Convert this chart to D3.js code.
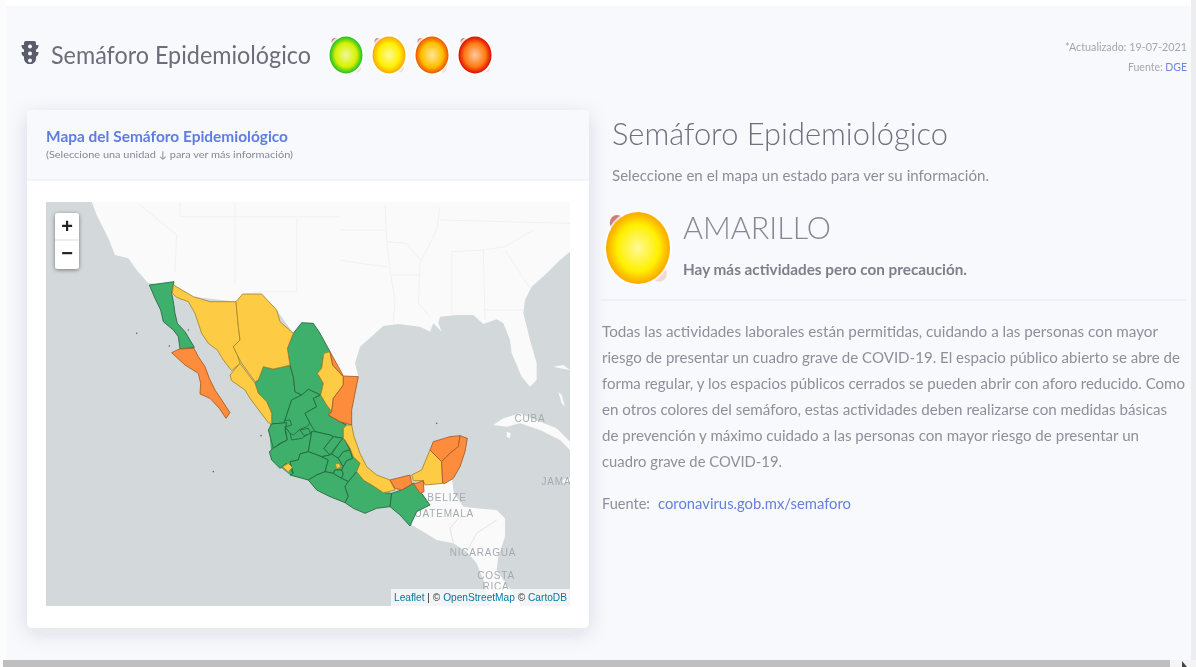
<!DOCTYPE html>
<html lang="es">
<head>
<meta charset="utf-8">
<title>Semáforo Epidemiológico</title>
<script src="https://cdn.jsdelivr.net/npm/d3@7"></script>
<style>
  html, body { margin: 0; padding: 0; background: #f8f9fc; overflow: hidden; }
  svg { display: block; filter: blur(0.5px); font-family: Lato, "Noto Sans", sans-serif; }
</style>
</head>
<body>
<div id="chart"></div>
<script>
// Map outlines, in a grid of 1050 x 810 units over the map's middle part
const tierra = [[-115,-300],[-115,-205],[-100,-165],[-65,-95],[-45,-45],[-5,-35],[20,0],[55,40],[130,45],[190,80],[320,95],[340,75],[395,75],[440,120],[490,190],[515,160],[550,160],[600,245],[640,320],[685,320],[675,280],[690,230],[730,195],[760,168],[805,162],[870,170],[900,185],[910,160],[935,185],[925,160],[930,140],[980,135],[1030,135],[1060,162],[1100,148],[1120,160],[1140,210],[1145,250],[1175,320],[1200,350],[1220,330],[1220,280],[1200,210],[1180,130],[1185,90],[1205,50],[1255,5],[1290,-30],[1320,-55],[1340,-60],[1340,-300]];
const centroamerica = [[880,640],[965,622],[972,670],[1000,710],[1040,715],[1100,720],[1125,745],[1125,800],[1105,860],[1100,900],[1135,950],[1170,1000],[1170,1020],[1085,1020],[1080,1000],[1060,930],[1040,880],[1010,845],[970,820],[920,810],[880,785],[845,765],[845,700]];
const cuba = [[1090,465],[1120,445],[1170,430],[1230,455],[1280,475],[1325,520],[1340,560],[1290,510],[1230,480],[1170,460],[1130,470]];
const islas = [[[1285,365],[1295,375],[1305,410],[1295,400]],[[1130,485],[1142,490],[1140,505],[1130,500]],[[1270,290],[1300,285],[1320,300],[1290,295]],[[1290,630],[1320,625],[1335,635],[1300,640]]];
const islotes = [[20,190],[118,228],[920,460],[393,497],[250,605],[175,180]];
const lineasEEUU = [
  [[30,-195],[140,-105],[135,5]],[[150,-205],[150,-160]],[[150,-160],[630,-160]],[[315,-205],[315,45]],
  [[370,65],[500,65],[500,-155]],[[765,-195],[770,-90],[780,0],[795,90],[790,160]],[[630,-30],[690,-20],[770,-10]],
  [[770,-85],[830,-80],[870,-30]],[[930,-190],[920,-120],[870,-20],[865,100],[900,140]],[[780,15],[875,15]],
  [[965,-55],[965,130]],[[1060,-60],[1065,150]],[[1060,120],[1180,120]],[[1125,-60],[1200,55]],[[930,-150],[1320,-140]],
  [[630,-120],[700,-120],[770,-120]],[[965,-55],[1060,-60],[1125,-70],[1210,-120]]
];
const lineasCA = [[970,820],[960,775],[985,745]],
      lineasCA2 = [[1010,845],[1040,790],[1100,750]];

// green filler under the small central states
const centroRelleno = [[425,430],[475,400],[495,365],[572,375],[605,425],[650,465],[640,505],[690,580],[680,610],[655,640],[535,630],[480,615],[425,570],[418,480]];

const estadosVerde = [
  ["Baja California",[[58,45],[132,35],[125,70],[130,95],[135,130],[142,160],[165,185],[193,232],[150,237],[145,200],[130,180],[100,155],[92,120],[75,85]]],
  ["Durango",[[400,290],[430,297],[462,290],[480,285],[490,320],[495,365],[515,375],[485,390],[475,420],[465,450],[470,458],[425,462],[425,430],[410,395],[385,370],[375,340],[385,330]]],
  ["Coahuila",[[490,190],[515,158],[550,160],[570,190],[600,245],[580,260],[575,295],[562,310],[580,340],[572,375],[535,358],[515,375],[495,365],[490,320],[480,285],[472,235]]],
  ["Zacatecas",[[515,375],[535,358],[572,375],[550,385],[560,410],[525,430],[540,460],[530,470],[510,478],[490,495],[480,490],[465,470],[465,450],[475,420],[485,390]]],
  ["San Luis Potosí",[[572,375],[590,405],[605,425],[595,435],[630,455],[650,465],[640,475],[640,505],[610,500],[600,495],[555,485],[540,460],[525,430],[560,410],[550,385]]],
  ["Enclave",[[462,452],[480,450],[485,465],[470,470]]],
  ["Nayarit",[[425,462],[470,458],[465,480],[472,510],[450,520],[430,535],[415,480]]],
  ["Jalisco",[[430,535],[450,522],[472,510],[465,470],[480,490],[485,510],[515,505],[545,485],[535,545],[510,552],[505,570],[480,575],[490,610],[470,580],[450,595],[425,570],[418,545]]],
  ["Aguascalientes",[[510,480],[535,475],[542,490],[522,497]]],
  ["Guanajuato",[[545,485],[555,485],[600,495],[610,500],[582,535],[600,555],[575,560],[535,545]]],
  ["Querétaro",[[610,500],[640,505],[630,515],[600,555],[582,535]]],
  ["Hidalgo",[[640,505],[645,510],[660,540],[640,545],[625,565],[605,552],[630,515]]],
  ["Michoacán",[[510,552],[535,545],[575,560],[595,570],[585,605],[560,615],[535,630],[480,615],[490,610],[480,575],[505,570]]],
  ["México",[[600,555],[605,552],[625,565],[640,590],[635,600],[615,600],[610,610],[585,605],[595,570],[575,560]]],
  ["Morelos",[[615,600],[635,600],[640,612],[635,625],[625,620],[610,610]]],
  ["Tlaxcala",[[640,545],[660,540],[668,565],[650,572],[640,590],[625,565]]],
  ["Puebla",[[645,510],[660,535],[670,560],[690,580],[680,605],[655,635],[635,625],[640,612],[635,600],[640,590],[650,572],[668,565],[660,540]]],
  ["Guerrero",[[535,630],[560,615],[585,605],[610,610],[625,620],[635,625],[655,635],[645,650],[655,680],[645,698],[600,680],[560,660]]],
  ["Oaxaca",[[655,635],[680,605],[700,630],[730,648],[760,668],[785,670],[780,710],[740,715],[705,730],[670,715],[645,698],[655,680],[645,650]]],
  ["Chiapas",[[785,670],[815,660],[850,640],[875,670],[900,705],[860,725],[840,768],[810,735],[780,710]]]
];
const estadosAmarillo = [
  ["Sonora",[[130,45],[190,80],[240,95],[318,95],[325,170],[330,210],[310,230],[322,255],[330,280],[305,302],[280,270],[262,240],[235,220],[215,190],[195,130],[175,95],[140,82],[127,70]]],
  ["Chihuahua",[[318,95],[338,72],[395,72],[440,120],[450,155],[490,190],[472,235],[480,285],[462,290],[430,297],[400,290],[385,330],[375,335],[335,280],[322,255],[310,230],[330,210],[325,170]]],
  ["Sinaloa",[[330,280],[375,340],[385,370],[410,395],[425,430],[425,462],[415,458],[390,425],[360,385],[345,360],[305,332],[300,315]]],
  ["Nuevo León",[[582,250],[600,245],[608,285],[640,320],[640,345],[610,385],[605,425],[590,405],[572,375],[580,340],[562,310],[575,295],[580,260]]],
  ["Veracruz",[[650,465],[665,465],[672,500],[690,550],[710,590],[740,615],[780,630],[795,660],[775,665],[760,668],[730,648],[700,630],[680,605],[690,580],[670,560],[660,535],[645,510],[640,505],[640,475]]],
  ["Campeche",[[845,615],[875,600],[900,540],[935,575],[938,640],[885,645],[880,632],[850,632]]],
  ["Colima",[[458,590],[475,580],[487,592],[475,607]]],
  ["Ciudad de México",[[616,582],[628,580],[632,592],[620,596]]]
];
const estadosNaranja = [
  ["Baja California Sur",[[125,248],[148,237],[192,235],[205,260],[225,290],[238,325],[255,360],[272,385],[300,428],[288,445],[268,415],[240,385],[210,372],[212,340],[205,310],[165,285]]],
  ["Tamaulipas",[[600,245],[625,290],[640,318],[685,320],[675,370],[665,420],[665,465],[630,455],[595,435],[605,425],[610,385],[640,345],[640,320],[608,285]]],
  ["Tabasco",[[780,630],[840,615],[845,640],[858,640],[880,632],[882,665],[870,670],[850,640],[815,660],[795,655]]],
  ["Yucatán",[[900,540],[910,515],[960,500],[990,497],[985,530],[960,550],[935,575]]],
  ["Quintana Roo",[[990,497],[1012,505],[1005,545],[990,590],[970,625],[945,640],[938,640],[935,575],[960,550],[985,530]]]
];

const niveles = ["verde", "amarillo", "naranja"];
const coloresNivel = ["#3fb06c", "#fecc44", "#fd8c3c"];
const paises = ["CUBA", "BELIZE", "GUATEMALA", "JAMAICA", "NICARAGUA", "COSTA", "RICA"];

const luces = ["verde", "amarillo", "naranja", "rojo"];
const lucesCentro = ["#d8f000", "#fff000", "#ffc000", "#ff7a10"];
const lucesBorde = ["#30c820", "#fbb000", "#f06000", "#e01808"];

const parrafo = [
  "Todas las actividades laborales están permitidas, cuidando a las personas con mayor",
  "riesgo de presentar un cuadro grave de COVID-19. El espacio público abierto se abre de",
  "forma regular, y los espacios públicos cerrados se pueden abrir con aforo reducido. Como",
  "en otros colores del semáforo, estas actividades deben realizarse con medidas básicas",
  "de prevención y máximo cuidado a las personas con mayor riesgo de presentar un",
  "cuadro grave de COVID-19."
];
const anchoParrafo = [556, 578, 583, 565, 537, 180];

const width = 1196, height = 667;
const svg = d3.select("#chart").append("svg").attr("width", width).attr("height", height);
const defs = svg.append("defs");

defs.append("filter").attr("id", "sombra").attr("x", "-10%").attr("y", "-10%").attr("width", "120%").attr("height", "125%")
  .append("feDropShadow").attr("dx", 0).attr("dy", 5).attr("stdDeviation", 10).attr("flood-color", "#3a3b45").attr("flood-opacity", 0.13);
defs.append("filter").attr("id", "sombraBoton").attr("x", "-30%").attr("y", "-30%").attr("width", "160%").attr("height", "160%")
  .append("feDropShadow").attr("dx", 0).attr("dy", 1).attr("stdDeviation", 2).attr("flood-color", "#000").attr("flood-opacity", 0.45);
defs.append("clipPath").attr("id", "recorteMapa").append("rect").attr("x", 46).attr("y", 202).attr("width", 524).attr("height", 404);

function gradiente(id, centro, borde) {
  const g = defs.append("radialGradient").attr("id", id).attr("cx", "50%").attr("cy", "50%").attr("r", "50%");
  g.append("stop").attr("offset", "0%").attr("stop-color", d3.interpolateRgb(centro, "#fff")(0.6));
  g.append("stop").attr("offset", "65%").attr("stop-color", centro);
  g.append("stop").attr("offset", "95%").attr("stop-color", borde);
  g.append("stop").attr("offset", "100%").attr("stop-color", borde);
}
luces.forEach((d, i) => gradiente("luz-" + d, lucesCentro[i], lucesBorde[i]));

// page frame
svg.append("rect").attr("width", width).attr("height", height).attr("fill", "#f8f9fc");
svg.append("rect").attr("width", width).attr("height", 6).attr("fill", "#fff");
svg.append("rect").attr("width", 6).attr("height", height).attr("fill", "#fcfcfd");
svg.append("rect").attr("x", 1191).attr("width", 5).attr("height", height).attr("fill", "#ededf0");
svg.append("rect").attr("x", 3).attr("y", 660).attr("width", 1167).attr("height", 7).attr("fill", "#bfbfbf");
svg.append("rect").attr("x", 1170).attr("y", 660).attr("width", 26).attr("height", 7).attr("fill", "#f4f4f4");
svg.append("path").attr("d", "M1182 661l5 6h-5z").attr("fill", "#444");

// header
svg.append("path")
  .attr("d", "M26 41h8a2 2 0 0 1 2 2v2h2.500c0 2.500-1 4-2.500 4.500v2.500h2.500c0 2.500-1 4-2.500 4.500v2c0 3-2.500 5-4 5.500h-4c-1.500-.5-4-2.500-4-5.500v-2c-1.500-.5-2.500-2-2.500-4.500h2.500v-2.500c-1.500-.5-2.500-2-2.500-4.500h2.500v-2a2 2 0 0 1 2-2z")
  .attr("fill", "#5a5c69");
svg.append("g").selectAll("circle").data([46.500, 53.500, 60.500]).join("circle")
  .attr("cx", 30).attr("cy", d => d).attr("r", 2).attr("fill", "#f8f9fc");

svg.append("text").attr("x", 51).attr("y", 64).attr("font-size", 25).attr("fill", "#6b6d7a")
  .attr("textLength", 260).attr("lengthAdjust", "spacingAndGlyphs").text("Semáforo Epidemiológico");

const xLuz = d3.scalePoint().domain(luces).range([346, 475]);
function luz(g, nombre, cx, cy, rx, ry) {
  g.append("ellipse").attr("cx", cx + rx * 0.66).attr("cy", cy + ry * 0.7).attr("rx", rx * 0.24).attr("ry", ry * 0.24).attr("fill", "#e8b0a8").attr("opacity", 0.45);
  g.append("ellipse").attr("cx", cx - rx * 0.66).attr("cy", cy - ry * 0.7).attr("rx", rx * 0.22).attr("ry", ry * 0.22).attr("fill", "#c0473c").attr("opacity", 0.7);
  g.append("ellipse").attr("cx", cx).attr("cy", cy).attr("rx", rx + 2).attr("ry", ry + 2).attr("fill", "#fff").attr("opacity", 0.75);
  g.append("ellipse").attr("cx", cx).attr("cy", cy).attr("rx", rx).attr("ry", ry).attr("fill", "url(#luz-" + nombre + ")");
}
const gLuces = svg.append("g");
luces.forEach(d => luz(gLuces, d, xLuz(d), 55, 16.500, 18.500));

svg.append("text").attr("x", 1187).attr("y", 51).attr("text-anchor", "end").attr("font-size", 10.500).attr("fill", "#a3a5b0")
  .attr("textLength", 122).attr("lengthAdjust", "spacingAndGlyphs").text("*Actualizado: 19-07-2021");
const fuente = svg.append("text").attr("x", 1187).attr("y", 71).attr("text-anchor", "end").attr("font-size", 10.500).attr("fill", "#a3a5b0");
fuente.append("tspan").text("Fuente: ");
fuente.append("tspan").attr("fill", "#6f86d8").text("DGE");

// card
svg.append("rect").attr("x", 27).attr("y", 110).attr("width", 562).attr("height", 518).attr("rx", 5).attr("fill", "#fff").attr("filter", "url(#sombra)");
svg.append("path").attr("d", "M27 180v-65a5 5 0 0 1 5-5h552a5 5 0 0 1 5 5v65z").attr("fill", "#f8f9fc");
svg.append("line").attr("x1", 27).attr("x2", 589).attr("y1", 180).attr("y2", 180).attr("stroke", "#e9ebf3");
svg.append("text").attr("x", 46).attr("y", 142).attr("font-size", 14.500).attr("font-weight", 700).attr("fill", "#5f7de0")
  .attr("textLength", 242).attr("lengthAdjust", "spacingAndGlyphs").text("Mapa del Semáforo Epidemiológico");
svg.append("text").attr("x", 46).attr("y", 158).attr("font-size", 9.500).attr("fill", "#858796")
  .attr("textLength", 247).attr("lengthAdjust", "spacingAndGlyphs").text("(Seleccione una unidad ↓ para ver más información)");

// map
const xMapa = d3.scaleLinear().domain([0, 1050]).range([130, 480]);
const yMapa = d3.scaleLinear().domain([0, 810]).range([270, 540]);
const linea = d3.line().x(d => xMapa(d[0])).y(d => yMapa(d[1]));
const color = d3.scaleOrdinal().domain(niveles).range(coloresNivel);

const mapa = svg.append("g").attr("clip-path", "url(#recorteMapa)");
mapa.append("rect").attr("x", 46).attr("y", 202).attr("width", 524).attr("height", 404).attr("fill", "#d3d8da");
mapa.append("g").attr("fill", "#fafafa").selectAll("path")
  .data([tierra, centroamerica, cuba, ...islas]).join("path").attr("d", d => linea(d) + "Z");
mapa.append("g").attr("fill", "none").attr("stroke", "#f1f1f1").attr("stroke-width", 1).selectAll("path")
  .data(lineasEEUU).join("path").attr("d", linea);
mapa.append("g").attr("fill", "none").attr("stroke", "#efdfe0").attr("stroke-width", 1).selectAll("path")
  .data([lineasCA, lineasCA2]).join("path").attr("d", linea);
mapa.append("g").attr("fill", "#5f6a70").selectAll("circle")
  .data(islotes).join("circle").attr("cx", d => xMapa(d[0])).attr("cy", d => yMapa(d[1])).attr("r", 0.8);

const xPais = d3.scaleOrdinal().domain(paises).range([530, 447, 440, 566, 483, 496, 496]);
const yPais = d3.scaleOrdinal().domain(paises).range([422, 501, 517, 485, 556, 579, 590]);
mapa.append("g").attr("font-family", "'Liberation Sans', Arial, sans-serif").attr("font-size", 10).attr("letter-spacing", 0.8)
  .attr("fill", "#a4abb0").attr("text-anchor", "middle")
  .selectAll("text").data(paises).join("text")
  .attr("x", d => xPais(d)).attr("y", d => yPais(d)).text(d => d);

mapa.append("path").attr("d", linea(centroRelleno) + "Z").attr("fill", coloresNivel[0]);

const capas = [["verde", estadosVerde], ["amarillo", estadosAmarillo], ["naranja", estadosNaranja]];
capas.forEach(([nivel, estados]) => {
  mapa.append("g").attr("class", nivel).selectAll("path").data(estados).join("path")
    .attr("d", d => linea(d[1]) + "Z")
    .attr("fill", color(nivel))
    .attr("stroke", d3.color(color(nivel)).darker(nivel === "verde" ? 1.5 : 1.2))
    .attr("stroke-opacity", 0.85)
    .attr("stroke-width", 1)
    .attr("stroke-linejoin", "round");
});

// leaflet controls
const zoomCtl = svg.append("g");
zoomCtl.append("rect").attr("x", 55).attr("y", 213).attr("width", 24).attr("height", 56).attr("rx", 3).attr("fill", "#fff").attr("filter", "url(#sombraBoton)");
zoomCtl.append("line").attr("x1", 55).attr("x2", 79).attr("y1", 240).attr("y2", 240).attr("stroke", "#dddddd");
zoomCtl.append("text").attr("x", 67).attr("y", 233).attr("text-anchor", "middle").attr("font-size", 20).attr("font-weight", 700).attr("font-family", "'Liberation Sans', sans-serif").attr("fill", "#222").text("+");
zoomCtl.append("text").attr("x", 67).attr("y", 260).attr("text-anchor", "middle").attr("font-size", 20).attr("font-weight", 700).attr("font-family", "'Liberation Sans', sans-serif").attr("fill", "#222").text("−");

svg.append("rect").attr("x", 391).attr("y", 589).attr("width", 179).attr("height", 17).attr("fill", "#fff").attr("opacity", 0.72);
const atrib = svg.append("text").attr("x", 394).attr("y", 601).attr("font-size", 11).attr("font-family", "'Liberation Sans', Arial, sans-serif").attr("fill", "#333")
  .attr("textLength", 173).attr("lengthAdjust", "spacingAndGlyphs");
atrib.append("tspan").attr("fill", "#0078a8").text("Leaflet");
atrib.append("tspan").text(" | © ");
atrib.append("tspan").attr("fill", "#0078a8").text("OpenStreetMap");
atrib.append("tspan").text(" © ");
atrib.append("tspan").attr("fill", "#0078a8").text("CartoDB");

// right column
svg.append("text").attr("x", 612).attr("y", 145).attr("font-size", 31).attr("font-weight", 300).attr("fill", "#6e707e")
  .attr("textLength", 336).attr("lengthAdjust", "spacingAndGlyphs").text("Semáforo Epidemiológico");
svg.append("text").attr("x", 612).attr("y", 181).attr("font-size", 14.500).attr("fill", "#8b8d9a")
  .attr("textLength", 377).attr("lengthAdjust", "spacingAndGlyphs").text("Seleccione en el mapa un estado para ver su información.");

const gGrande = svg.append("g");
luz(gGrande, "amarillo", 638, 248, 32, 36);

svg.append("text").attr("x", 683).attr("y", 239).attr("font-size", 31).attr("font-weight", 300).attr("fill", "#858796")
  .attr("textLength", 148).attr("lengthAdjust", "spacingAndGlyphs").text("AMARILLO");
svg.append("text").attr("x", 683).attr("y", 275).attr("font-size", 14.500).attr("font-weight", 700).attr("fill", "#7d7f8c")
  .attr("textLength", 284).attr("lengthAdjust", "spacingAndGlyphs").text("Hay más actividades pero con precaución.");
svg.append("line").attr("x1", 601).attr("x2", 1187).attr("y1", 300).attr("y2", 300).attr("stroke", "#e6e8f0");

svg.append("g").attr("font-size", 15.500).attr("fill", "#8d8f9b")
  .selectAll("text").data(parrafo).join("text")
  .attr("x", 602).attr("y", (d, i) => 337 + i * 26)
  .attr("textLength", (d, i) => anchoParrafo[i]).attr("lengthAdjust", "spacingAndGlyphs")
  .text(d => d);

svg.append("text").attr("x", 602).attr("y", 509).attr("font-size", 15.500).attr("fill", "#8d8f9b")
  .attr("textLength", 48).attr("lengthAdjust", "spacingAndGlyphs").text("Fuente:");
svg.append("text").attr("x", 658).attr("y", 509).attr("font-size", 15.500).attr("fill", "#6480dc")
  .attr("textLength", 193).attr("lengthAdjust", "spacingAndGlyphs").text("coronavirus.gob.mx/semaforo");
</script>
</body>
</html>
